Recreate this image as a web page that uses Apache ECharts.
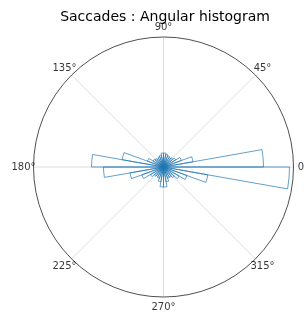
<!DOCTYPE html>
<html>
<head>
    <meta charset="utf-8">
    <title>Saccades : Angular histogram</title>
    <script src="https://cdn.jsdelivr.net/npm/echarts@6/dist/echarts.min.js"></script>
</head>
<body style="margin:0;background:#fff;">
    <div id="main" style="width:305px;height:314px;"></div>
    <script type="text/javascript">
        // 10 degree bins, counterclockwise from 0
        var binLabels = [];
        for (var i = 0; i < 36; i++) { binLabels.push(i * 10 + 5); }
        var counts = [100, 30, 19, 14, 12, 11, 12, 13, 14,
                      14, 12, 11, 10, 11, 12, 17, 42, 72,
                      60, 34, 23, 15, 12, 11, 12, 15, 20,
                      20, 15, 12, 12, 14, 18, 25, 45, 126];
        var angleTicks = [0, 45, 90, 135, 180, 225, 270, 315];
        var rMax = 130;
        var labelR = 140;

        var center = [163.5, 167];
        var echart = echarts.init(document.getElementById('main'));
        var option = {
            animation: false,
            title: {
                text: 'Saccades : Angular histogram',
                left: 160,
                textAlign: 'center',
                top: 5,
                z: 0,
                textStyle: {fontFamily: 'DejaVu Sans', fontSize: 14, fontWeight: 'normal', color: '#000'}
            },
            polar: [
                {center: center, radius: 130},
                {center: center, radius: 130}
            ],
            angleAxis: [
                {
                    polarIndex: 0, type: 'value', min: 0, max: 360, interval: 45,
                    startAngle: 0, clockwise: false,
                    axisLine: {lineStyle: {color: '#222', width: 0.8}},
                    axisTick: {show: false},
                    axisLabel: {show: false},
                    splitLine: {lineStyle: {color: '#d4d4d4', width: 0.8}}
                },
                {
                    polarIndex: 1, type: 'category', data: binLabels,
                    startAngle: 0, clockwise: false,
                    axisLine: {show: false}, axisTick: {show: false},
                    axisLabel: {show: false}, splitLine: {show: false}
                }
            ],
            radiusAxis: [
                {polarIndex: 0, min: 0, max: rMax, axisLine: {show: false}, axisTick: {show: false},
                 axisLabel: {show: false}, splitLine: {show: false}},
                {polarIndex: 1, min: 0, max: rMax, axisLine: {show: false}, axisTick: {show: false},
                 axisLabel: {show: false}, splitLine: {show: false}}
            ],
            series: [{
                type: 'bar',
                coordinateSystem: 'polar',
                polarIndex: 1,
                data: counts,
                barCategoryGap: '0%',
                itemStyle: {color: 'rgba(0,0,0,0)', borderColor: '#1f77b4', borderWidth: 0.7}
            }, {
                // angle tick labels, placed just outside the circle
                type: 'scatter',
                coordinateSystem: 'polar',
                polarIndex: 0,
                clip: false,
                silent: true,
                z: 10,
                symbolSize: 1,
                itemStyle: {color: 'rgba(0,0,0,0)'},
                data: angleTicks.map(function (a) { return [labelR, a]; }),
                label: {
                    show: true, position: 'inside',
                    color: '#000', fontSize: 10, fontFamily: 'DejaVu Sans',
                    formatter: function (p) { return p.value[1] + '°'; }
                }
            }]
        };
        echart.setOption(option);
    </script>
</body>
</html>
